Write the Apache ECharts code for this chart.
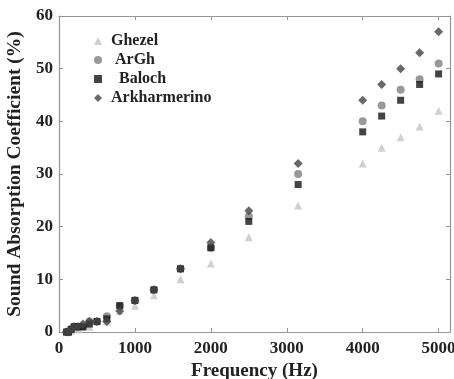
<!DOCTYPE html>
<html>
<head>
<meta charset="utf-8">
<script src="https://cdn.jsdelivr.net/npm/echarts@6/dist/echarts.min.js"></script>
<style>
  html, body { margin: 0; padding: 0; background: #fff; }
  #chart { width: 454px; height: 379px; }
</style>
</head>
<body>
<div id="chart"></div>
<script>
const freq = [100, 125, 160, 200, 250, 315, 400, 500, 630, 800, 1000, 1250, 1600, 2000, 2500, 3150, 4000, 4250, 4500, 4750, 5000];
const ghezel = [0, 0, 0.3, 0.5, 0.5, 1, 1, 2, 2, 4, 5, 7, 10, 13, 18, 24, 32, 35, 37, 39, 42];
const argh = [0, 0, 0.5, 1, 1, 1, 2, 2, 3, 5, 6, 8, 12, 16, 22, 30, 40, 43, 46, 48, 51];
const baloch = [0, 0, 0.5, 1, 1, 1, 1.5, 2, 2.5, 5, 6, 8, 12, 16, 21, 28, 38, 41, 44, 47, 49];
const arkharmerino = [0, 0, 0.5, 1, 1, 1.5, 2, 2, 2, 4, 6, 8, 12, 17, 23, 32, 44, 47, 50, 53, 57];

const font = 'Liberation Serif';
const axisColor = '#959595';
const textColor = '#222';

const pairs = vals => freq.map((f, i) => [f, vals[i]]);

const chart = echarts.init(document.getElementById('chart'));

const baseAxis = {
  type: 'value',
  axisLine: { show: true, onZero: false, lineStyle: { color: axisColor, width: 1.2 } },
  axisTick: { show: true, inside: true, length: 4, lineStyle: { color: axisColor } },
  splitLine: { show: false }
};

// a bit of extra room before some names, as in the original legend
const legendPad = { ArGh: '  ', Baloch: '   ' };

const option = {
  animation: false,
  grid: { left: 59, right: 4, top: 16, bottom: 47, outerBoundsMode: 'none' },
  legend: {
    orient: 'vertical',
    left: 89,
    top: 28,
    itemGap: 3,
    itemWidth: 8,
    itemHeight: 8,
    formatter: name => (legendPad[name] || ' ') + name,
    textStyle: { fontFamily: font, fontWeight: 'bold', fontSize: 16, color: textColor },
    data: ['Ghezel', 'ArGh', 'Baloch', 'Arkharmerino']
  },
  xAxis: [
    Object.assign({}, baseAxis, {
      min: 0, max: 5150, interval: 1000,
      name: 'Frequency (Hz)',
      nameLocation: 'middle',
      nameGap: 25,
      nameTextStyle: { fontFamily: font, fontWeight: 'bold', fontSize: 19, color: textColor },
      axisLabel: {
        showMaxLabel: false,
        fontFamily: font, fontWeight: 'bold', fontSize: 17, color: textColor, margin: 8,
        formatter: v => (v % 1000 === 0 ? String(v) : '')
      }
    }),
    Object.assign({}, baseAxis, {
      position: 'top', min: 0, max: 5150, interval: 1000,
      axisLabel: { show: false }
    })
  ],
  yAxis: [
    Object.assign({}, baseAxis, {
      min: 0, max: 60, interval: 10,
      name: 'Sound Absorption Coefficient (%)',
      nameLocation: 'middle',
      nameGap: 30,
      nameTextStyle: { fontFamily: font, fontWeight: 'bold', fontSize: 19.5, color: textColor },
      axisLabel: { fontFamily: font, fontWeight: 'bold', fontSize: 17, color: textColor, margin: 6 }
    }),
    Object.assign({}, baseAxis, {
      position: 'right', min: 0, max: 60, interval: 10,
      axisLabel: { show: false }
    })
  ],
  series: [
    { name: 'Ghezel', type: 'scatter', symbol: 'triangle', symbolSize: 8,
      itemStyle: { color: '#c4c4c4' }, data: pairs(ghezel) },
    { name: 'ArGh', type: 'scatter', symbol: 'circle', symbolSize: 8,
      itemStyle: { color: '#7e7e7e' }, data: pairs(argh) },
    { name: 'Baloch', type: 'scatter', symbol: 'rect', symbolSize: 7,
      itemStyle: { color: '#151515' }, data: pairs(baloch) },
    { name: 'Arkharmerino', type: 'scatter', symbol: 'diamond', symbolSize: 9,
      itemStyle: { color: '#444444' }, data: pairs(arkharmerino) }
  ]
};

chart.setOption(option);
</script>
</body>
</html>
